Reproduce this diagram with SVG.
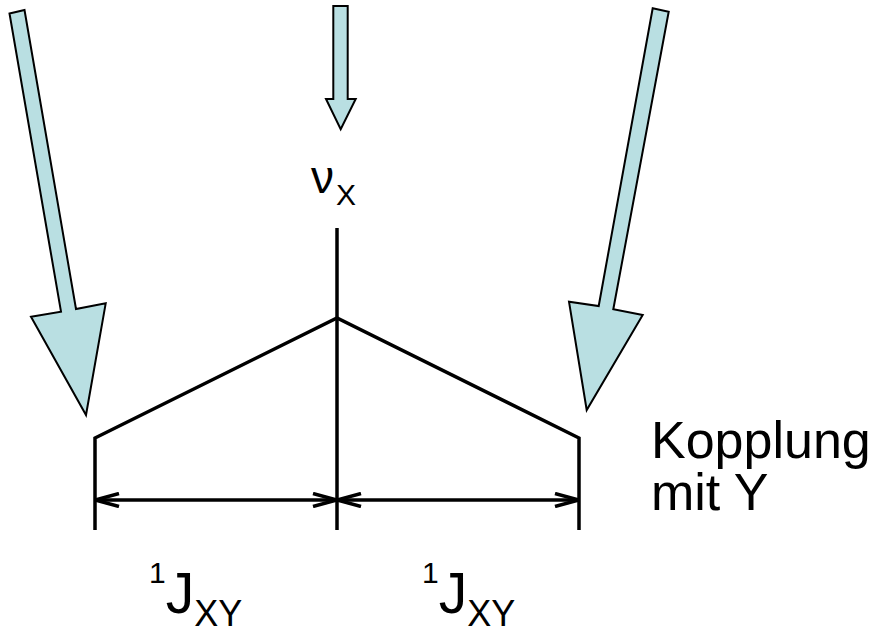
<svg xmlns="http://www.w3.org/2000/svg" width="877" height="626" viewBox="0 0 877 626">
<defs>
<style>
.arr{fill:#b9dfe2;stroke:#000;stroke-width:2;stroke-linejoin:miter}
.ln{fill:none;stroke:#000;stroke-width:3.5}
.t{font-family:"Liberation Sans",Arial,sans-serif;fill:#000}
</style>
<marker id="open" viewBox="0 0 26 16" refX="25" refY="8" markerWidth="26" markerHeight="16" markerUnits="userSpaceOnUse" orient="auto-start-reverse">
<path d="M1,1.5 L25,8 L1,14.5" fill="none" stroke="#000" stroke-width="3.5"/>
</marker>
</defs>
<g id="arrow-left">
<polygon class="arr" points="9.5,13.5 24.5,10 76,309 105.7,303.3 86,415 31,316.7 61,311.7"/>
</g>
<g id="arrow-center">
<polygon class="arr" points="333.3,6 347.7,6 347.7,99 355.7,99 340.7,129.3 326,99 333.3,99"/>
</g>
<g id="arrow-right">
<polygon class="arr" points="652.7,8.3 668.7,11.7 613.3,309.3 642.7,315 586.7,410 569,301.7 598.7,306"/>
</g>
<g id="multiplet">
<polyline class="ln" points="95,530 95,438 337,318 579,438 579,530"/>
<line class="ln" x1="337" y1="228" x2="337" y2="530"/>
</g>
<g id="connectors">
<line class="ln" x1="95" y1="500" x2="337" y2="500" marker-start="url(#open)" marker-end="url(#open)"/>
<line class="ln" x1="337" y1="500" x2="579" y2="500" marker-start="url(#open)" marker-end="url(#open)"/>
</g>
<g id="label-nu">
<text class="t" x="311" y="193" font-size="46">ν<tspan font-size="30" dx="2" dy="12">X</tspan></text>
</g>
<g id="label-J-left">
<text class="t" x="149" y="583" font-size="30">1<tspan font-size="57" dy="30">J</tspan><tspan font-size="36" dy="13">XY</tspan></text>
</g>
<g id="label-J-right">
<text class="t" x="422" y="583" font-size="30">1<tspan font-size="57" dy="30">J</tspan><tspan font-size="36" dy="13">XY</tspan></text>
</g>
<g id="label-kopplung">
<text class="t" x="651" y="458" font-size="52">Kopplung</text>
<text class="t" x="651" y="510" font-size="52">mit Y</text>
</g>
</svg>
